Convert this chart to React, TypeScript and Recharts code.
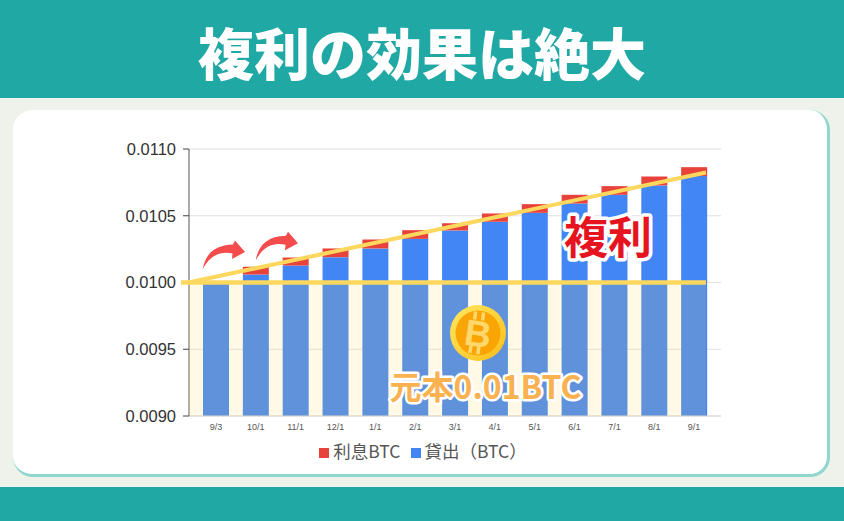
import { BarChart, Bar, XAxis, YAxis, CartesianGrid, Legend, ReferenceArea, ReferenceLine } from 'recharts'

const months = ['9/3', '10/1', '11/1', '12/1', '1/1', '2/1', '3/1', '4/1', '5/1', '6/1', '7/1', '8/1', '9/1']
const loanBtc = [0.01, 0.01006, 0.010127, 0.01019, 0.010255, 0.010327, 0.01039, 0.010455, 0.010522, 0.010592, 0.010657, 0.010727, 0.010797]
const interestBtc = [0, 0.000058, 0.00006, 0.000065, 0.000067, 0.000065, 0.000054, 0.000062, 0.000065, 0.000065, 0.000065, 0.000067, 0.000067]
const yTicks = [0.009, 0.0095, 0.01, 0.0105, 0.011]

// guide lines use the hidden number axis, which runs 0..12 across the plot
const guideStart = -0.01
const guideEnd = 11.66
const baseLeft = -0.18
const principal = 0.01
const trendEnd = 0.010824

const chartData = months.map((month, i) => ({
  month,
  loan: loanBtc[i],
  interest: interestBtc[i],
}))

const YELLOW = '#fdd75e'

function Overlay() {
  return (
    <svg width={844} height={521} style={{ position: 'absolute', left: 0, top: 0, pointerEvents: 'none' }}>
      <defs>
        <linearGradient id="coinRing" x1="0" y1="0" x2="1" y2="1">
          <stop offset="0%" stopColor="#ffe860" />
          <stop offset="100%" stopColor="#fbbd18" />
        </linearGradient>
      </defs>
      {/* arrows */}
      <path d="M202.7 269.3 C205 255 214 245 233 244.5 L235 240.5 L245 252 L232 259 L232.5 253.5 C221 251 210 255 202.7 269.3 Z" fill="#f44c4c" />
      <path d="M255.7 260.6 C258 246 267 236 286 235.8 L288 231.8 L298 243.3 L285 250.3 L285.5 244.8 C274 242 263 246 255.7 260.6 Z" fill="#f44c4c" />
      {/* coin */}
      <circle cx={478} cy={333} r={28} fill="url(#coinRing)" />
      <circle cx={478} cy={333} r={22.5} fill="#f8a505" />
      <g transform="rotate(8 478 333)" fill="#ffd76a">
        <rect x={471} y={312} width={3.5} height={8} />
        <rect x={479} y={312} width={3.5} height={8} />
        <rect x={471} y={346} width={3.5} height={8} />
        <rect x={479} y={346} width={3.5} height={8} />
        <text x={478} y={346.5} textAnchor="middle" fontFamily="Liberation Sans" fontWeight={700} fontSize={37}>B</text>
      </g>
      <text x={485.5} y={399} textAnchor="middle" fontFamily="'Noto Sans CJK JP'" fontWeight={700} fontSize={32} fill="#f9b24f"
        stroke="#fff" strokeWidth={5} strokeLinejoin="round" paintOrder="stroke">元本0.01BTC</text>
      <text x={608} y={254} textAnchor="middle" fontFamily="'Noto Sans CJK JP'" fontWeight={700} fontSize={44} fill="#e5141f"
        stroke="#fff" strokeWidth={7} strokeLinejoin="round" paintOrder="stroke">複利</text>
    </svg>
  )
}

export default function App() {
  return (
    <div style={{ position: 'absolute', left: 0, top: 0, width: 844, height: 521, background: '#eef2ea', overflow: 'hidden' }}>
      <div style={{ position: 'absolute', left: 0, top: 0, width: 844, height: 98, background: '#20a8a4', color: '#fff',
        fontFamily: "'Noto Sans CJK JP'", fontWeight: 900, fontSize: 56, lineHeight: '102px', textAlign: 'center' }}>
        複利の効果は絶大
      </div>
      <div style={{ position: 'absolute', left: 0, top: 487, width: 844, height: 34, background: '#20a8a4' }} />
      <div style={{ position: 'absolute', left: 13, top: 110, width: 817, height: 367, boxSizing: 'border-box', background: '#fff',
        borderRadius: 20, borderRight: '3px solid #8fd6cd', borderBottom: '3px solid #8fd6cd' }} />
      <div style={{ position: 'absolute', left: 0, top: 0 }}>
        <BarChart width={844} height={521} data={chartData} barSize={26} margin={{ top: 149, right: 123, bottom: 50, left: 0 }}>
          <CartesianGrid horizontal vertical={false} stroke="#e0e0e0" />
          <XAxis xAxisId="cat" dataKey="month" interval={0} padding={{ left: 7, right: 7 }} height={30}
            tick={{ fontSize: 9, fill: '#555', fontFamily: 'Liberation Sans' }} tickLine={false} axisLine={{ stroke: '#d8d8d8' }} />
          <XAxis xAxisId="guide" type="number" hide domain={[0, 12]} allowDataOverflow />
          <YAxis domain={[0.009, 0.011]} ticks={yTicks} width={189} allowDataOverflow tickFormatter={(v: number) => v.toFixed(4)}
            tick={{ fontSize: 16.5, fill: '#333', fontFamily: 'Liberation Sans' }} tickSize={6} tickMargin={7} tickLine={{ stroke: '#444' }} axisLine={{ stroke: '#555' }} />
          <Legend iconType="square" iconSize={10} wrapperStyle={{ fontSize: 17.5, fontFamily: "'Noto Sans CJK JP'", left: 10, width: 836, bottom: 58 }}
            formatter={(value: string) => <span style={{ color: '#555' }}>{value}</span>} />
          <Bar xAxisId="cat" dataKey="loan" name="貸出（BTC）" stackId="a" fill="#4285f4" isAnimationActive={false} />
          <Bar xAxisId="cat" dataKey="interest" name="利息BTC" stackId="a" fill="#e8433a" isAnimationActive={false} />
          <ReferenceArea xAxisId="guide" x1={guideStart} x2={guideEnd} y1={0.009} y2={principal} fill={YELLOW} fillOpacity={0.16} stroke="none" ifOverflow="visible" zIndex={500} />
          <ReferenceLine xAxisId="guide" segment={[{ x: baseLeft, y: principal }, { x: guideEnd, y: principal }]} stroke={YELLOW} strokeWidth={4.5} ifOverflow="visible" zIndex={600} />
          <ReferenceLine xAxisId="guide" segment={[{ x: guideStart, y: principal }, { x: guideEnd, y: trendEnd }]} stroke={YELLOW} strokeWidth={4} ifOverflow="visible" zIndex={600} />
        </BarChart>
      </div>
      <Overlay />
    </div>
  )
}
